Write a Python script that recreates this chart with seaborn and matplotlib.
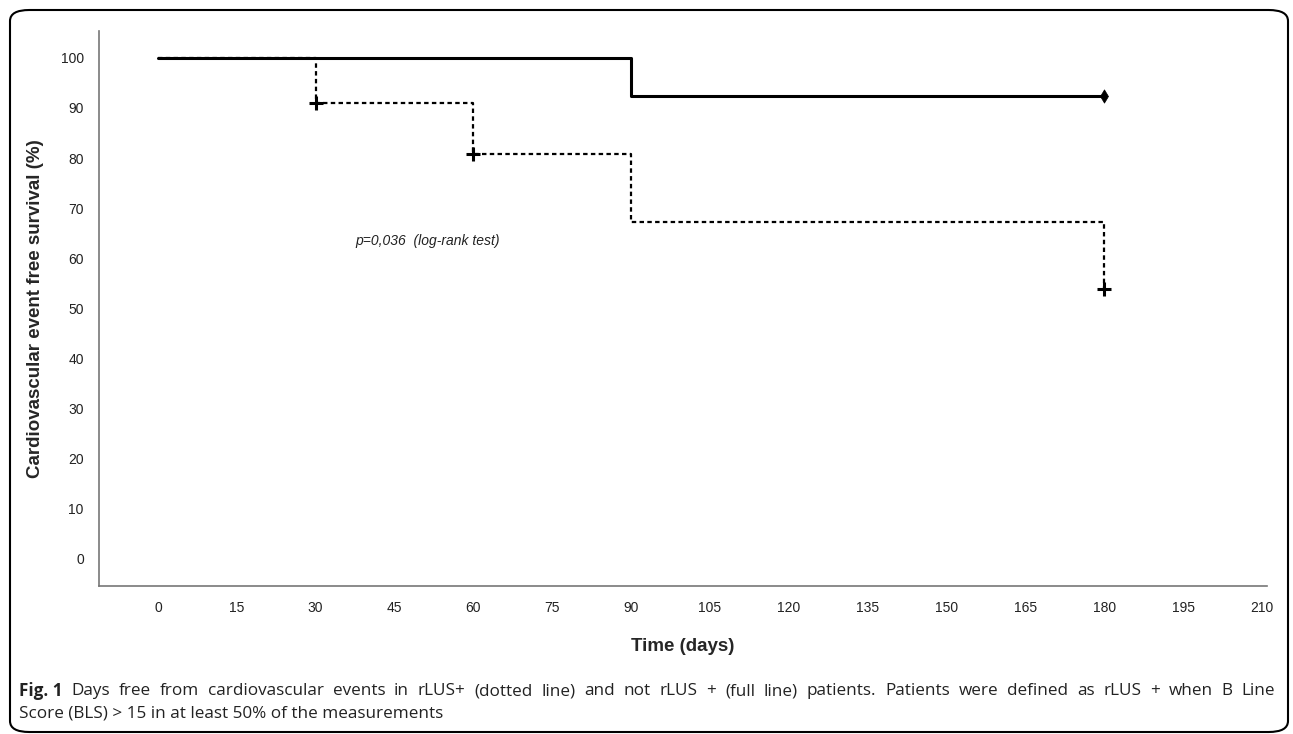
import pandas as pd
import matplotlib.pyplot as plt
import seaborn as sns
from matplotlib.patches import FancyBboxPatch

# Kaplan-Meier steps
pos_days = [0, 30, 60, 90, 180]
pos_surv = [100, 90.9, 80.8, 67.3, 53.8]
neg_days = [0, 90, 180]
neg_surv = [100, 92.3, 92.3]

# censored marks
pos_cens_days = [30, 60, 180]
pos_cens_surv = [90.9, 80.8, 53.8]
neg_cens_days = [180]
neg_cens_surv = [92.3]

x_ticks = list(range(0, 211, 15))
y_ticks = list(range(0, 101, 10))

caption_1 = ('Days free from cardiovascular events in rLUS+ (dotted line) and not rLUS + (full line) '
             'patients. Patients were defined as rLUS + when B Line')
caption_2 = 'Score (BLS) > 15 in at least 50% of the measurements'

pos_df = pd.DataFrame({'days': pos_days, 'surv': pos_surv})
neg_df = pd.DataFrame({'days': neg_days, 'surv': neg_surv})

sns.set_style('white')
plt.rcParams['font.family'] = ['Liberation Sans', 'DejaVu Sans']

fig = plt.figure(figsize=(12.93, 7.34), dpi=100)
ax = fig.add_axes([0.0766, 0.2016, 0.9034, 0.7564])

sns.lineplot(data=pos_df, x='days', y='surv', ax=ax, color='black', lw=1.6,
             linestyle=(0, (2, 1.5)), drawstyle='steps-post', sort=False, estimator=None)
sns.lineplot(data=neg_df, x='days', y='surv', ax=ax, color='black', lw=2.2,
             drawstyle='steps-post', sort=False, estimator=None)
sns.scatterplot(x=pos_cens_days, y=pos_cens_surv, ax=ax, marker='+', s=90,
                color='black', linewidth=2.2, zorder=5)
sns.scatterplot(x=neg_cens_days, y=neg_cens_surv, ax=ax, marker='d', s=45,
                color='black', edgecolor='black', zorder=5)

ax.set_xlim(-11.2, 211)
ax.set_ylim(-5.4, 105.4)
ax.set_xticks(x_ticks)
ax.set_yticks(y_ticks)
ax.tick_params(axis='both', labelsize=10, length=5, width=1, color='#777777',
               labelcolor='#222222', direction='out', pad=6)
for s in ['top', 'right']:
    ax.spines[s].set_visible(False)
for s in ['left', 'bottom']:
    ax.spines[s].set_color('#777777')
    ax.spines[s].set_linewidth(1.2)

ax.set_xlabel('Time (days)', fontsize=13.5, fontweight='bold', labelpad=16)
ax.set_ylabel('Cardiovascular event free survival (%)', fontsize=13.5,
              fontweight='bold', labelpad=12)
ax.text(37.5, 63.5, 'p=0,036  (log-rank test)', fontsize=10, style='italic',
        va='center', ha='left', color='#222222')

# caption, first line justified across the frame
cap_kw = dict(fontsize=12.3, family='Open Sans', va='center', ha='left', color='#222222')
y1 = 1 - 691 / 734
y2 = 1 - 714 / 734
x_left, x_right = 19, 1275
renderer = fig.canvas.get_renderer()
words = [('Fig. 1', 'bold')] + [(w, 'normal') for w in caption_1.split(' ')]
items = []
total = 0
for w, fw in words:
    t = fig.text(0, y1, w, fontweight=fw, **cap_kw)
    wd = t.get_window_extent(renderer).width
    items.append((t, wd))
    total += wd
gap = (x_right - x_left - total) / (len(items) - 1)
x = x_left
for t, wd in items:
    t.set_x(x / 1293)
    x += wd + gap
fig.text(x_left / 1293, y2, caption_2, **cap_kw)

# rounded frame around the figure
frame = FancyBboxPatch((10 / 1293, 2 / 734), 1278 / 1293, 722 / 734,
                       boxstyle='round,pad=0,rounding_size=0.015',
                       transform=fig.transFigure, fill=False,
                       edgecolor='black', lw=1.5)
fig.patches.append(frame)

fig.savefig('out.png', dpi=100)
